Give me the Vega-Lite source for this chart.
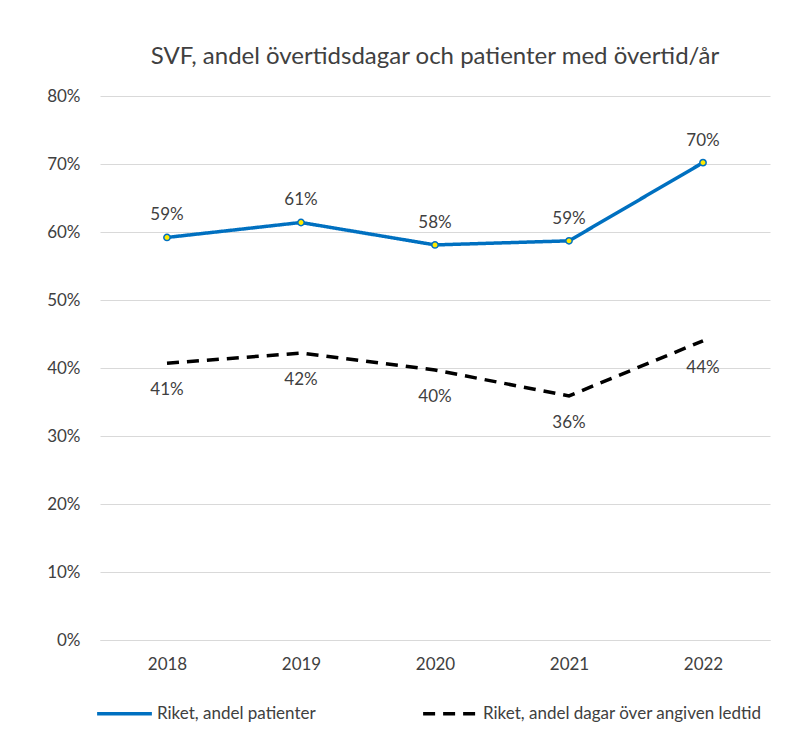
{
  "$schema": "https://vega.github.io/schema/vega-lite/v6.json",
  "width": 670,
  "height": 544,
  "autosize": "none",
  "padding": {"left": 100, "top": 96, "right": 30, "bottom": 115},
  "background": "white",
  "title": {
    "text": "SVF, andel övertidsdagar och patienter med övertid/år",
    "font": "Lato",
    "fontSize": 24,
    "fontWeight": "normal",
    "color": "#404040",
    "anchor": "middle",
    "offset": 18
  },
  "config": {
    "view": {"stroke": null},
    "font": "Lato"
  },
  "data": {
    "values": [
      {"year": "2018", "series": "Riket, andel patienter", "value": 0.592},
      {"year": "2019", "series": "Riket, andel patienter", "value": 0.614},
      {"year": "2020", "series": "Riket, andel patienter", "value": 0.581},
      {"year": "2021", "series": "Riket, andel patienter", "value": 0.587},
      {"year": "2022", "series": "Riket, andel patienter", "value": 0.702},
      {"year": "2018", "series": "Riket, andel dagar över angiven ledtid", "value": 0.407},
      {"year": "2019", "series": "Riket, andel dagar över angiven ledtid", "value": 0.422},
      {"year": "2020", "series": "Riket, andel dagar över angiven ledtid", "value": 0.397},
      {"year": "2021", "series": "Riket, andel dagar över angiven ledtid", "value": 0.359},
      {"year": "2022", "series": "Riket, andel dagar över angiven ledtid", "value": 0.44}
    ]
  },
  "encoding": {
    "x": {
      "field": "year",
      "type": "ordinal",
      "scale": {"type": "point", "padding": 0.5},
      "axis": {
        "title": null,
        "labelAngle": 0,
        "labelFontSize": 17,
        "labelColor": "#404040",
        "labelPadding": 16,
        "ticks": false,
        "domain": true,
        "domainColor": "#d9d9d9",
        "grid": false
      }
    },
    "y": {
      "field": "value",
      "type": "quantitative",
      "scale": {"domain": [0, 0.8]},
      "axis": {
        "title": null,
        "format": ".0%",
        "values": [0, 0.1, 0.2, 0.3, 0.4, 0.5, 0.6, 0.7, 0.8],
        "labelOverlap": false,
        "labelFontSize": 17,
        "labelColor": "#404040",
        "labelPadding": 20,
        "ticks": false,
        "domain": false,
        "gridColor": "#d9d9d9",
        "gridWidth": 1
      }
    }
  },
  "layer": [
    {
      "mark": {"type": "line", "strokeWidth": 3.5},
      "encoding": {
        "color": {
          "field": "series",
          "type": "nominal",
          "scale": {
            "domain": ["Riket, andel patienter", "Riket, andel dagar över angiven ledtid"],
            "range": ["#0070c0", "#000000"]
          },
          "legend": {
            "title": null,
            "orient": "none",
            "direction": "horizontal",
            "legendX": -5,
            "legendY": 588,
            "symbolType": "stroke",
            "symbolStrokeWidth": 3.5,
            "symbolSize": 3000,
            "symbolOffset": 0,
            "labelOffset": 3,
            "labelFontSize": 17,
            "labelColor": "#404040",
            "labelLimit": 400,
            "columnPadding": 100
          }
        },
        "strokeDash": {
          "field": "series",
          "type": "nominal",
          "scale": {
            "domain": ["Riket, andel patienter", "Riket, andel dagar över angiven ledtid"],
            "range": [[1, 0], [12, 8]]
          },
          "legend": null
        }
      }
    },
    {
      "transform": [{"filter": "datum.series === 'Riket, andel patienter'"}],
      "mark": {"type": "point", "filled": true, "fill": "#ffea00", "stroke": "#0070c0", "strokeWidth": 1.5, "size": 40, "opacity": 1}
    },
    {
      "transform": [{"filter": "datum.series === 'Riket, andel patienter'"}],
      "mark": {"type": "text", "dy": -22, "fontSize": 17, "color": "#404040"},
      "encoding": {"text": {"field": "value", "type": "quantitative", "format": ".0%"}}
    },
    {
      "transform": [{"filter": "datum.series !== 'Riket, andel patienter'"}],
      "mark": {"type": "text", "dy": 27, "fontSize": 17, "color": "#404040"},
      "encoding": {"text": {"field": "value", "type": "quantitative", "format": ".0%"}}
    }
  ]
}
